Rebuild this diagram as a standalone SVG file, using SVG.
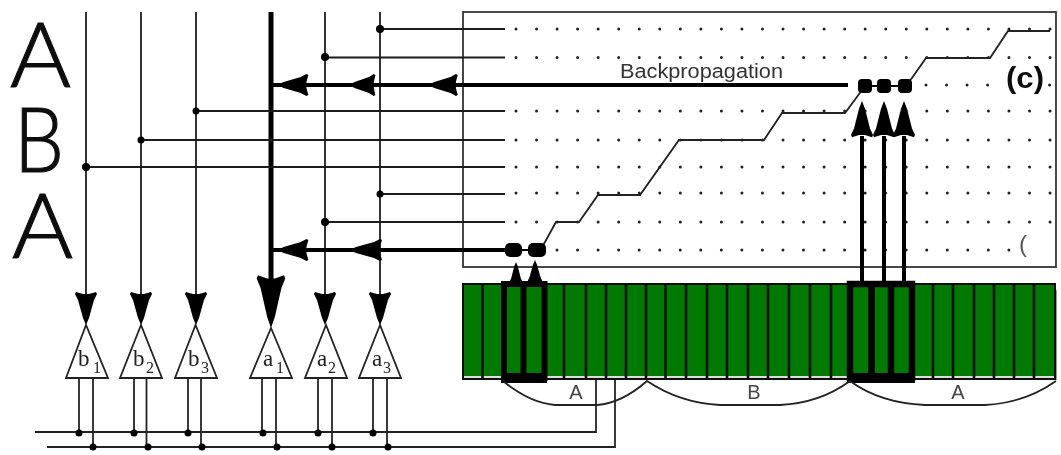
<svg xmlns="http://www.w3.org/2000/svg" width="1061" height="455" viewBox="0 0 1061 455">
<style>
.w{fill:none;stroke:#1c1c1c;stroke-width:1.8}
.t{fill:none;stroke:#000;stroke-width:4}
.s{fill:none;stroke:#222;stroke-width:1.8}
.d{fill:none;stroke:#222;stroke-width:3;stroke-linecap:round;stroke-dasharray:0 20.54}
.j{fill:#000}
.h{fill:#000}
.buf{fill:#fff;stroke:#222;stroke-width:1.8}
.big{font-family:Lato,"Liberation Sans",sans-serif;font-weight:300;font-size:90px;fill:#111;stroke:#111;stroke-width:1.2}
.lab{font-family:"Liberation Serif",serif;font-size:23px;fill:#222}
.sub{font-size:16px}
.seg{font-family:"Liberation Sans",Arial,sans-serif;font-size:20px;fill:#444}
.cell{stroke:#111;stroke-width:2.6}
</style>
<defs>
<path id="ah" d="M0 0L-3-7L-8-25L-11-31L-10-33L-3-31H3L10-33L11-31L8-25L3-7Z"/>
<filter id="soft" x="0" y="0" width="100%" height="100%"><feGaussianBlur stdDeviation="0.45"/></filter>
</defs>
<rect width="1061" height="455" fill="#fff"/>
<g filter="url(#soft)">
<g id="panel">
<rect x="463" y="12" width="593" height="255" fill="#fff" stroke="#333" stroke-width="1.8"/>
<path class="d" d="M516 29H1055M516 57.500H1055M926 85H990M1049.600 85H1055M516 111H1055M516 140H1055M516 167H1055M516 193H1055M516 222H1055M557 250H1012"/>
<path class="s" d="M540 250L545 242L556 222H579L598 195H640L679 140H764L782 113H845L865 86M905 86L912 78L926 58H990L1008 31H1050"/>
<text x="620" y="78" font-family="Liberation Sans,Arial,sans-serif" font-size="20" fill="#333" textLength="163" lengthAdjust="spacingAndGlyphs">Backpropagation</text>
<text x="1006" y="88" font-family="Liberation Sans,Arial,sans-serif" font-size="30" font-weight="700" fill="#111" textLength="38" lengthAdjust="spacingAndGlyphs">(c)</text>
<text x="1019" y="252" font-family="Liberation Sans,Arial,sans-serif" font-size="24" fill="#555">(</text>
</g>

<g id="letters">
<text class="big" x="10" y="87" textLength="61" lengthAdjust="spacingAndGlyphs">A</text>
<text class="big" x="14" y="172" textLength="50" lengthAdjust="spacingAndGlyphs">B</text>
<text class="big" x="12" y="258" textLength="61" lengthAdjust="spacingAndGlyphs">A</text>
</g>

<g id="bar">
<rect x="1055" y="290" width="2" height="90" fill="#999"/>
<rect x="463" y="284" width="592" height="92" fill="#007a00"/>
<rect x="463" y="376" width="592" height="3" fill="#ddd"/>
<rect x="463" y="284" width="592" height="95" fill="none" stroke="#111" stroke-width="2"/>
<path class="cell" d="M482.500 284V379M564 284V379M586 284V379M606 284V379M626 284V379M646 284V379M665.500 284V379M686 284V379M707 284V379M727 284V379M748 284V379M768 284V379M789 284V379M810 284V379M831 284V379M933 284V379M953 284V379M974 284V379M994 284V379M1014 284V379M1034 284V379"/>
</g>

<g id="selected">
<path d="M504 284H544.500V378H504ZM523.500 284V378" fill="none" stroke="#000" stroke-width="6"/>
<rect x="501" y="373" width="46" height="10" fill="#000"/>
<path d="M850 284H912V378H850ZM871.500 284V378M891 284V378" fill="none" stroke="#000" stroke-width="6.500"/>
<rect x="847" y="373" width="68" height="10" fill="#000"/>
</g>

<g id="segments">
<path class="s" d="M503 381Q530 403 555 405H597Q622 403 647 381Q680 403 720 405H780Q820 403 850 381Q880 403 925 405H985Q1025 403 1056 381"/>
<text class="seg" x="576" y="399" text-anchor="middle">A</text>
<text class="seg" x="754" y="399" text-anchor="middle">B</text>
<text class="seg" x="958" y="399" text-anchor="middle">A</text>
</g>

<g id="connectors">
<path class="w" d="M86 12V295M141 12V295M196 12V295M325 12V295M380 12V295"/>
<path d="M271 12V280" fill="none" stroke="#000" stroke-width="5"/>
<path class="w" d="M380 29H505M325 57.500H505M196 111H505M141 140H505M86 167H505M380 194H505M325 222H505"/>
<path class="t" d="M848 85H271M511 250H271"/>
<path d="M862 136V282M884 136V282M904 136V282" fill="none" stroke="#000" stroke-width="4"/>
<path class="s" d="M79 378V432M93 378V447M134 378V432M146.500 378V447M188 378V432M201 378V447M262 378V432M276 378V447M318 378V432M332 378V447M373 378V432M387 378V447"/>
<path class="s" d="M35 432H596V380M47 447H615V380"/>
<g class="j">
<circle cx="380" cy="29" r="4"/><circle cx="325" cy="57" r="4"/><circle cx="196" cy="111" r="3.500"/><circle cx="141" cy="140" r="3.500"/><circle cx="86" cy="167" r="4"/><circle cx="380" cy="194" r="3.500"/><circle cx="325" cy="222" r="4"/>
<circle cx="79" cy="433" r="3.500"/><circle cx="134" cy="433" r="3.500"/><circle cx="188" cy="433" r="3.500"/><circle cx="263" cy="433" r="3.500"/><circle cx="318" cy="433" r="3.500"/><circle cx="373" cy="433" r="3.500"/>
<circle cx="93" cy="447" r="3.500"/><circle cx="148" cy="447" r="3.500"/><circle cx="202" cy="447" r="3.500"/><circle cx="277" cy="447" r="3.500"/><circle cx="332" cy="447" r="3.500"/><circle cx="388" cy="447" r="3.500"/>
<rect x="505" y="243" width="17" height="14" rx="5"/><rect x="528" y="243" width="18" height="14" rx="5"/>
<path d="M513 250H537" stroke="#000" stroke-width="2"/>
<rect x="858" y="79" width="14" height="14" rx="4"/><rect x="877" y="79" width="14" height="14" rx="4"/><rect x="898" y="79" width="14" height="14" rx="4"/>
<path d="M865 86H905" stroke="#000" stroke-width="2"/>
</g>
<g class="h">
<use href="#ah" transform="translate(86 325)"/>
<use href="#ah" transform="translate(141 325)"/>
<use href="#ah" transform="translate(196 325)"/>
<use href="#ah" transform="translate(271 328) scale(1.3 1.6)"/>
<use href="#ah" transform="translate(325 325)"/>
<use href="#ah" transform="translate(380 325)"/>
<use href="#ah" transform="translate(277 85) rotate(90) scale(1 .95)"/>
<use href="#ah" transform="translate(349 85) rotate(90) scale(1 .8)"/>
<use href="#ah" transform="translate(428 85) rotate(90) scale(1 .9)"/>
<use href="#ah" transform="translate(277 250) rotate(90) scale(1 .95)"/>
<use href="#ah" transform="translate(349 250) rotate(90)"/>
<use href="#ah" transform="translate(862 101) rotate(180) scale(1 1.1)"/>
<use href="#ah" transform="translate(884 101) rotate(180) scale(1 1.1)"/>
<use href="#ah" transform="translate(904 101) rotate(180) scale(1 1.1)"/>
<use href="#ah" transform="translate(516 262) rotate(180) scale(.6 .65)"/>
<use href="#ah" transform="translate(535 260) rotate(180) scale(.7 .7)"/>
</g>
</g>

<g id="b1"><path class="buf" d="M86 325L66 378H108Z"/><text class="lab" x="78" y="366">b<tspan class="sub" x="93" y="373">1</tspan></text></g>
<g id="b2"><path class="buf" d="M141 325L120 378H162Z"/><text class="lab" x="133" y="366">b<tspan class="sub" x="146" y="373">2</tspan></text></g>
<g id="b3"><path class="buf" d="M195.500 325L175 378H217Z"/><text class="lab" x="188" y="366">b<tspan class="sub" x="201" y="373">3</tspan></text></g>
<g id="a1"><path class="buf" d="M271 328L250 378H292Z"/><text class="lab" x="263" y="366">a<tspan class="sub" x="276" y="373">1</tspan></text></g>
<g id="a2"><path class="buf" d="M326 325L305 378H347Z"/><text class="lab" x="317" y="366">a<tspan class="sub" x="328" y="373">2</tspan></text></g>
<g id="a3"><path class="buf" d="M380 325L359 378H401Z"/><text class="lab" x="372" y="366">a<tspan class="sub" x="383" y="373">3</tspan></text></g>
</g>
</svg>
